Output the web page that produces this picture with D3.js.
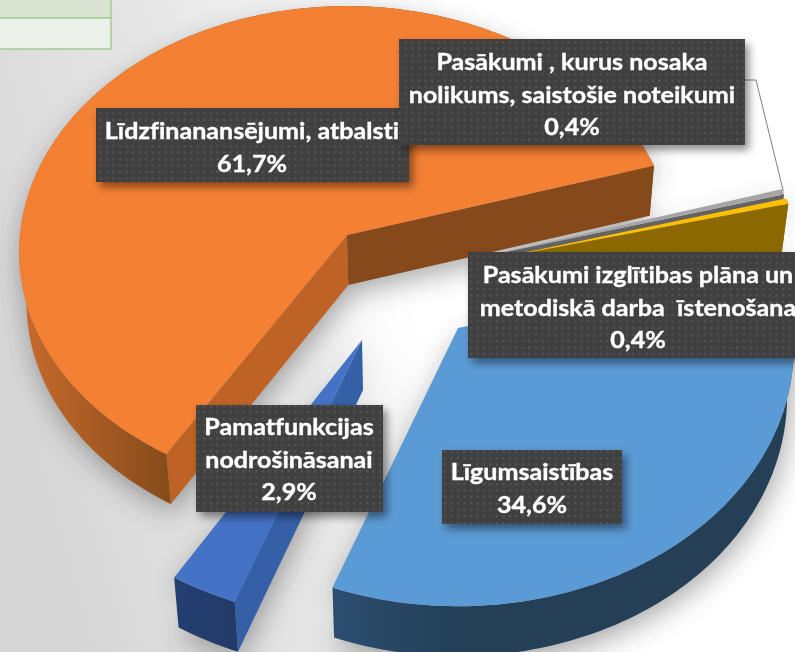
<!DOCTYPE html>
<html><head><meta charset="utf-8">
<script src="https://cdn.jsdelivr.net/npm/d3@7/dist/d3.min.js"></script>
<style>html,body{margin:0;padding:0;background:#fff;overflow:hidden}svg{display:block}</style>
</head><body><svg id="c" width="795" height="652"></svg>
<script>
// ---- data ----
const categories = ["Līdzfinanansējumi, atbalsti","Pasākumi , kurus nosaka nolikums, saistošie noteikumi","Pasākumi izglītibas plāna un metodiskā darba  īstenošana","Līgumsaistības","Pamatfunkcijas nodrošināsanai"];
const values = [61.7,0.4,0.4,34.6,2.9];
const valueLabels = ["61,7%","0,4%","0,4%","34,6%","2,9%"];
const labelLines = [["Līdzfinanansējumi, atbalsti"],["Pasākumi , kurus nosaka","nolikums, saistošie noteikumi"],["Pasākumi izglītibas plāna un","metodiskā darba  īstenošana"],["Līgumsaistības"],["Pamatfunkcijas","nodrošināsanai"]];
// ---- styling and layout ----
const topColors = ["#f38033","#a5a5a5","#ffc000","#5b9bd5","#4472c4"];
const endFaces   = ["#86491c","#636363","#8c6900","#24405a","#355fa6"];
const startFaces = ["#be6325","#636363","#8c6900","#2a4a6c","#355fa6"];
const apexes = [[347,235],[481,257],[483,261],[458,328],[362,340]];
const radii  = [327,320,320,335,340];
const tilts  = [.7,.7,.7,.735,.73];
const boxes  = [[96,108,313,74],[399,39,346,106],[468,252,340,106],[442,450,180,74],[196,405,187,107]];
const textX  = [252,572,638,532,289];
const textY0 = [139,70,283,480,435];
const depth=50, vanishX=420, vanishK=0.018, textStretch=1.115;
const W=795,H=652;
const svg=d3.select("#c");
const defs=svg.append("defs");
function lg(id,x1,y1,x2,y2,stops){const g=defs.append("linearGradient").attr("id",id).attr("gradientUnits","userSpaceOnUse").attr("x1",x1).attr("y1",y1).attr("x2",x2).attr("y2",y2);stops.forEach(s=>g.append("stop").attr("offset",s[0]).attr("stop-color",s[1]));}
lg("bg",0,400,520,250,[[0,"#d6d6d6"],[.45,"#e6e6e6"],[1,"#ffffff"]]);
lg("rimO",25,0,170,0,[[0,"#c66a2b"],[1,"#864b1b"]]);
lg("rimL",336,0,460,0,[[0,"#2b4d70"],[1,"#243f56"]]);
lg("rimB",178,0,240,0,[[0,"#223f70"],[1,"#233a68"]]);
const rims=["url(#rimO)","#636363","#8c6900","url(#rimL)","url(#rimB)"];
const blur=(id,sd)=>defs.append("filter").attr("id",id).attr("filterUnits","userSpaceOnUse").attr("x",-100).attr("y",-100).attr("width",W+200).attr("height",H+200).append("feGaussianBlur").attr("stdDeviation",sd);
blur("b14",14);blur("b30",34);blur("b4",4);
const pat=defs.append("pattern").attr("id","dots").attr("patternUnits","userSpaceOnUse").attr("width",6.5).attr("height",6.5);
pat.append("rect").attr("width",6.5).attr("height",6.5).attr("fill","#404040");
pat.append("rect").attr("x",2).attr("y",2).attr("width",2).attr("height",2).attr("fill","#575757");

const pie=d3.pie().sort(null).startAngle(-150*Math.PI/180).endAngle(210*Math.PI/180);
const arcs=pie(values);
const line=d3.line();
function project(i,a){const X=Math.sin(a),Y=-Math.cos(a),s=1+.065*Y+.065*Y*Y,R=radii[i];
  return [apexes[i][0]+X*R*s,apexes[i][1]+Y*R*tilts[i]*s];}
const down=p=>[p[0]+(vanishX-p[0])*vanishK,p[1]+depth];
function arcPts(i,d){const n=Math.max(2,Math.ceil((d.endAngle-d.startAngle)*60));
  return d3.range(n+1).map(k=>project(i,d.startAngle+(d.endAngle-d.startAngle)*k/n));}
const closed=pts=>line(pts)+"Z";

// background
svg.append("rect").attr("width",W).attr("height",H).attr("fill","url(#bg)");
svg.append("ellipse").attr("cx",470).attr("cy",290).attr("rx",120).attr("ry",130).attr("fill","#fff").attr("filter","url(#b30)");

// table fragment
svg.append("rect").attr("x",-2).attr("y",-2).attr("width",113).attr("height",20).attr("fill","#d8e4d2").attr("stroke","#a4cb92").attr("stroke-width",1.5);
svg.append("rect").attr("x",-2).attr("y",18).attr("width",113).attr("height",31).attr("fill","#ebf1e8").attr("stroke","#a4cb92").attr("stroke-width",1.5);

// shadows
const shadow=svg.append("g").attr("filter","url(#b14)").attr("opacity",.42);
arcs.forEach((d,i)=>{const pts=arcPts(i,d),a=apexes[i];
  shadow.append("path").attr("d",closed([a,...pts])).attr("fill","#333").attr("transform","translate(2,12)");
  shadow.append("path").attr("d",closed([...pts.map(down),down(a)])).attr("fill","#333").attr("transform","translate(2,8)");
});

// slices
arcs.forEach((d,i)=>{
  const g=svg.append("g");
  const pts=arcPts(i,d),a=apexes[i],first=pts[0],last=pts[pts.length-1];
  // a cut face is drawn only where it turns towards the viewer
  if(Math.sin(d.startAngle)<0) g.append("path").attr("d",closed([a,first,down(first),down(a)])).attr("fill",startFaces[i]);
  if(Math.sin(d.endAngle)>0) g.append("path").attr("d",closed([a,last,down(last),down(a)])).attr("fill",endFaces[i]);
  // outer rim
  g.append("path").attr("d",closed([...pts,...pts.map(down).reverse()])).attr("fill",rims[i]);
  // top
  g.append("path").attr("d",closed([a,...pts])).attr("fill",topColors[i]);
});

// leader line
const tip=project(1,arcs[1].startAngle);
svg.append("path").attr("d",line([[boxes[1][0]+boxes[1][2],80],[756,80],[tip[0]+2,tip[1]+2]])).attr("fill","none").attr("stroke","#7f7f7f").attr("stroke-width",1);

// labels
arcs.forEach((d,i)=>{
  const b=boxes[i],g=svg.append("g");
  g.append("rect").attr("x",b[0]+4).attr("y",b[1]+5).attr("width",b[2]).attr("height",b[3]).attr("fill","#000").attr("opacity",.45).attr("filter","url(#b4)");
  g.append("rect").attr("x",b[0]).attr("y",b[1]).attr("width",b[2]).attr("height",b[3]).attr("fill","url(#dots)");
  [...labelLines[i],valueLabels[i]].forEach((t,k)=>{
    g.append("text").attr("transform",`translate(${textX[i]},${textY0[i]+k*32.5}) scale(${textStretch},1)`).attr("text-anchor","middle")
     .attr("font-family","Lato, Carlito, sans-serif").attr("font-weight",700).attr("font-size",22.5)
     .attr("fill","#fff").attr("stroke","#fff").attr("stroke-width",.35)
     .style("white-space","pre").style("font-variant-ligatures","none").text(t);
  });
});
</script></body></html>
